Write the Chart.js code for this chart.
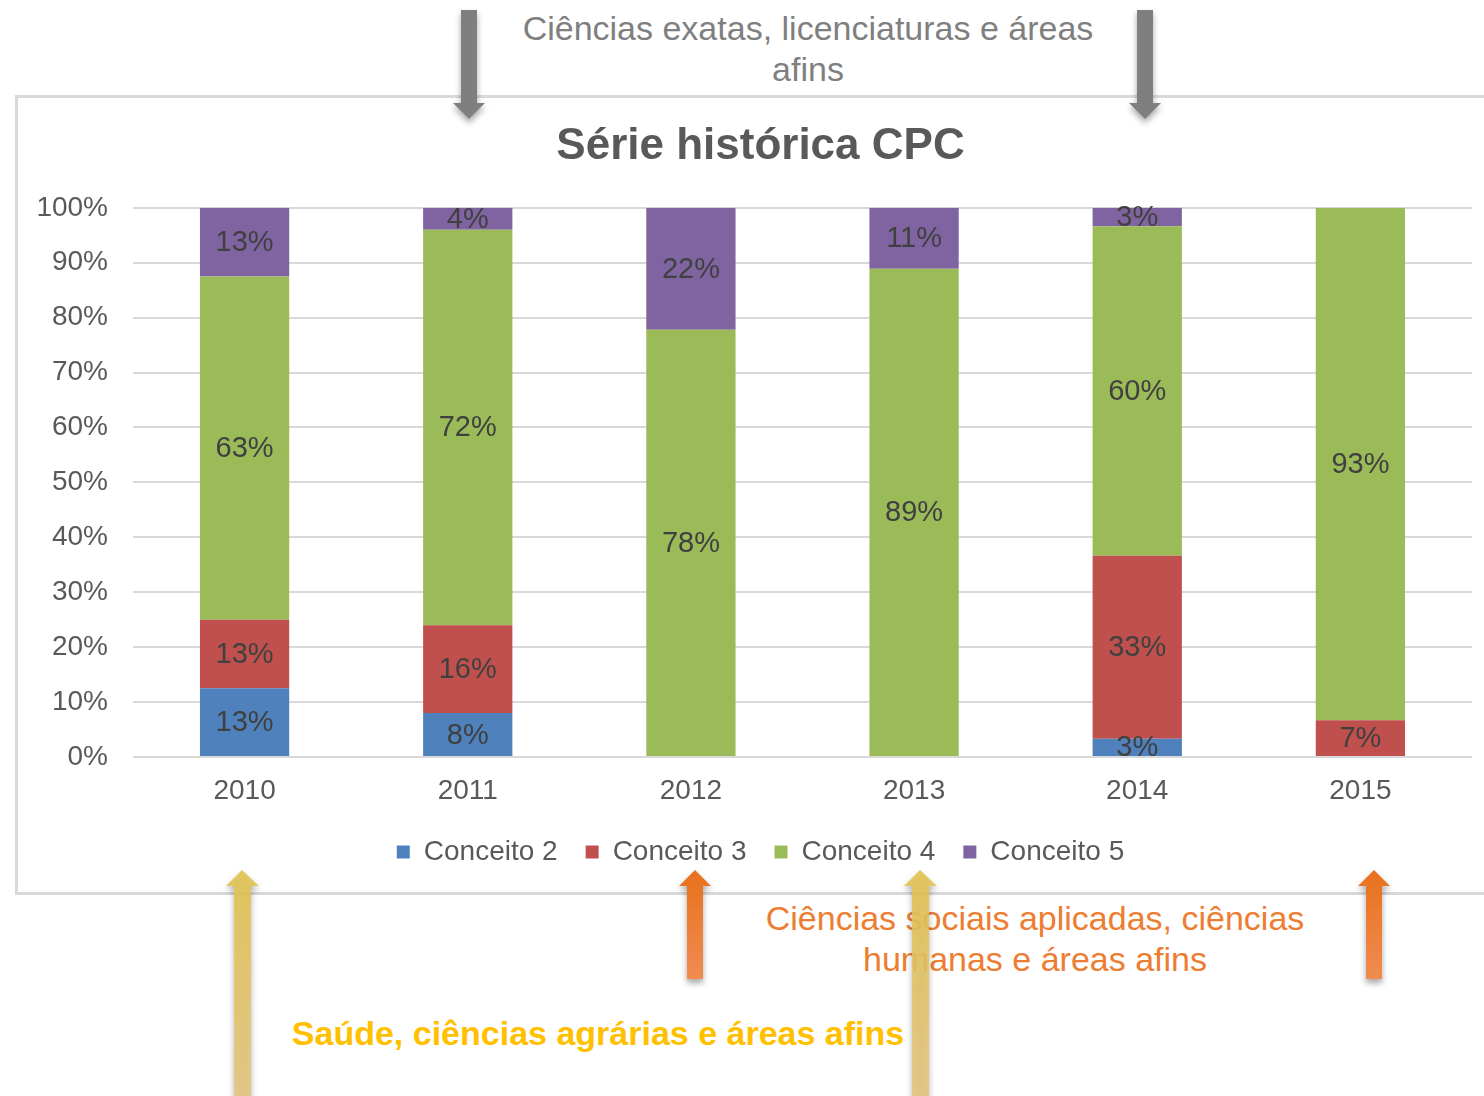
<!DOCTYPE html>
<html lang="pt">
<head>
<meta charset="utf-8">
<script src="https://cdn.jsdelivr.net/npm/chart.js@4"></script>
<style>
  html, body { margin: 0; padding: 0; background: #fff; overflow: hidden; }
  body { width: 1484px; height: 1096px; position: relative; font-family: "Liberation Sans", Arial, sans-serif; }
  #box { position: absolute; left: 15px; top: 95px; width: 1490px; height: 800px; box-sizing: border-box; border: 3px solid #d9d9d9; }
  #box canvas { position: absolute; left: 0; top: 0; }
  .nota { position: absolute; text-align: center; font-size: 34px; line-height: 41px; white-space: nowrap; }
  #exatas { left: 458px; top: 8px; width: 700px; color: #7f7f7f; }
  #sociais { left: 685px; top: 898px; width: 700px; color: #ed7d31; }
  #saude { left: 198px; top: 1013px; width: 800px; color: #ffc000; font-weight: bold; }
  #setas { position: absolute; left: 0; top: 0; pointer-events: none; }
</style>
</head>
<body>
<div id="box"><canvas id="chart"></canvas></div>

<div class="nota" id="exatas">Ciências exatas, licenciaturas e áreas<br>afins</div>
<div class="nota" id="sociais">Ciências sociais aplicadas, ciências<br>humanas e áreas afins</div>
<div class="nota" id="saude">Saúde, ciências agrárias e áreas afins</div>

<svg id="setas" width="1484" height="1096" viewBox="0 0 1484 1096">
  <defs>
    <filter id="sombra" x="-50%" y="-20%" width="200%" height="140%">
      <feDropShadow dx="0" dy="4" stdDeviation="3" flood-color="#000" flood-opacity="0.35"/>
    </filter>
    <linearGradient id="laranja" x1="0" y1="0" x2="0" y2="1">
      <stop offset="0" stop-color="#e8711d"/>
      <stop offset="1" stop-color="#f08c52"/>
    </linearGradient>
    <linearGradient id="amarelo" x1="0" y1="0" x2="0" y2="1">
      <stop offset="0" stop-color="#e0c150" stop-opacity="0.9"/>
      <stop offset="1" stop-color="#e2c27c" stop-opacity="0.85"/>
    </linearGradient>
  </defs>
  <!-- setas cinzas (para baixo) -->
  <g filter="url(#sombra)" fill="#7f7f7f">
    <polygon points="461,10 477,10 477,103 485,103 469,119 453,103 461,103"/>
    <polygon points="1137,10 1153,10 1153,103 1161,103 1145,119 1129,103 1137,103"/>
  </g>
  <!-- setas laranja (para cima) -->
  <g filter="url(#sombra)" fill="url(#laranja)">
    <polygon points="687,979 703,979 703,886 711,886 695,870 679,886 687,886"/>
    <polygon points="1366,979 1382,979 1382,886 1390,886 1374,870 1358,886 1366,886"/>
  </g>
  <!-- setas amarelas (para cima) -->
  <g filter="url(#sombra)" fill="url(#amarelo)">
    <polygon points="234,1100 251,1100 251,886 259,886 242,870 226,886 234,886"/>
    <polygon points="912,1100 929,1100 929,886 937,886 920,870 904,886 912,886"/>
  </g>
</svg>

<script>
// 데이터
const anos = ["2010", "2011", "2012", "2013", "2014", "2015"];
const conceito2 = [12.5, 8, 0, 0, 3.33, 0];
const conceito3 = [12.5, 16, 0, 0, 33.33, 6.67];
const conceito4 = [62.5, 72, 77.78, 88.89, 60, 93.33];
const conceito5 = [12.5, 4, 22.22, 11.11, 3.33, 0];
const yTicks = [0, 10, 20, 30, 40, 50, 60, 70, 80, 90, 100];

const cinza = "#595959";
const fonte = "'Liberation Sans', Arial, sans-serif";

// 막대 안에 값 표시
const rotulos = {
  id: "rotulos",
  afterDatasetsDraw(chart) {
    const ctx = chart.ctx;
    ctx.save();
    ctx.font = "29px " + fonte;
    ctx.fillStyle = "#404040";
    ctx.textAlign = "center";
    ctx.textBaseline = "middle";
    chart.data.datasets.forEach((ds, i) => {
      chart.getDatasetMeta(i).data.forEach((bar, j) => {
        const v = ds.data[j];
        if (!v) return;
        const meio = (bar.y + bar.base) / 2;
        ctx.fillText(Math.round(v) + "%", bar.x, meio + 1);
      });
    });
    ctx.restore();
  }
};

// y축 라벨이 잘리지 않도록 축 영역을 왼쪽 끝까지 넓힘
const eixoLargo = {
  id: "eixoLargo",
  afterLayout(chart) { chart.scales.y.left = 0; }
};

const canvas = document.querySelector("#chart");
canvas.width = 1484;
canvas.height = 794;
canvas.style.width = "1484px";
canvas.style.height = "794px";

new Chart(canvas, {
  type: "bar",
  data: {
    labels: anos,
    datasets: [
      { label: "Conceito 2", data: conceito2, backgroundColor: "#4f81bd" },
      { label: "Conceito 3", data: conceito3, backgroundColor: "#c0504d" },
      { label: "Conceito 4", data: conceito4, backgroundColor: "#9bbb59" },
      { label: "Conceito 5", data: conceito5, backgroundColor: "#8064a2" },
    ],
  },
  options: {
    responsive: false,
    animation: false,
    devicePixelRatio: 1,
    layout: { padding: { left: 31, right: 30, top: 0, bottom: 16 } },
    datasets: { bar: { barPercentage: 0.4, categoryPercentage: 1 } },
    plugins: {
      tooltip: { enabled: false },
      title: {
        display: true,
        text: "Série histórica CPC",
        color: cinza,
        font: { family: fonte, size: 44, weight: "bold", lineHeight: 1.2 },
        padding: { top: 22, bottom: 35 },
      },
      legend: {
        position: "bottom",
        labels: {
          color: cinza,
          font: { family: fonte, size: 28 },
          boxWidth: 13,
          boxHeight: 13,
          padding: 28,
        },
      },
    },
    scales: {
      x: {
        stacked: true,
        grid: { display: false },
        border: { display: false },
        ticks: { color: cinza, font: { family: fonte, size: 28 }, padding: 9 },
        afterFit(s) { s.height = 53; },
      },
      y: {
        stacked: true,
        min: 0,
        max: 100,
        afterBuildTicks(s) { s.ticks = yTicks.map(v => ({ value: v })); },
        afterFit(s) { s.width = 84; },
        grid: { color: "#d9d9d9", lineWidth: 2, drawTicks: false },
        border: { display: false },
        ticks: {
          color: cinza,
          font: { family: fonte, size: 28 },
          padding: 25,
          callback: v => v + "%",
        },
      },
    },
  },
  plugins: [rotulos, eixoLargo],
});
</script>
</body>
</html>
